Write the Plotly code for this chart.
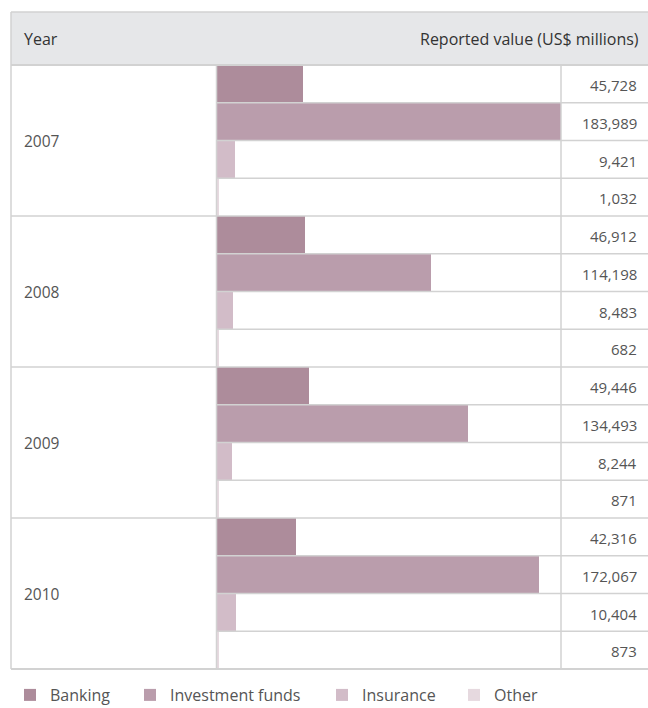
import plotly.graph_objects as go

# Reported value by sector and year (US$ millions)
years = ["2007", "2008", "2009", "2010"]
sectors = ["Banking", "Investment funds", "Insurance", "Other"]
banking = [45728, 46912, 49446, 42316]
investment_funds = [183989, 114198, 134493, 172067]
insurance = [9421, 8483, 8244, 10404]
other = [1032, 682, 871, 873]

header_left = "Year"
header_right = "Reported value (US$ millions)"

W, H = 648, 708
colors = ["#ad8c9b", "#ba9dac", "#d2bcc8", "#e6d9df"]
grid = "#d2d2d2"
text_col = "#555555"
FONT = "Open Sans"


def fx(px):
    return px / W


def fy(py):
    return 1 - py / H


series = [banking, investment_funds, insurance, other]
n_sec = len(sectors)
n_rows = len(years) * n_sec

# table geometry (pixels)
TOP, HEAD_BOT, BOT = 12, 65, 669
LEFT, YEAR_COL, VAL_COL, RIGHT = 11, 216.5, 561, 648

fig = go.Figure()
legend_x = [23, 143, 335, 467]
legend_names = ["legend", "legend2", "legend3", "legend4"]
for j, (name, vals, col) in enumerate(zip(sectors, series, colors)):
    rows = [i * n_sec + j for i in range(len(years))]
    fig.add_trace(go.Bar(
        x=vals, y=rows, orientation="h", name=name,
        marker=dict(color=col, line=dict(width=0)),
        width=1.0, legend=legend_names[j], hoverinfo="x+name",
    ))

max_val = max(max(s) for s in series)

layout_legends = {}
for j, lname in enumerate(legend_names):
    layout_legends[lname] = dict(
        x=fx(legend_x[j] - 13), y=fy(695), xanchor="left", yanchor="middle",
        orientation="h", bgcolor="rgba(0,0,0,0)", borderwidth=0,
        font=dict(family=FONT, size=16, color=text_col),
    )

shapes = []
# header band
shapes.append(dict(type="rect", xref="paper", yref="paper",
                   x0=fx(LEFT), x1=fx(RIGHT + 5), y0=fy(HEAD_BOT), y1=fy(TOP),
                   fillcolor="#e6e7e9", line=dict(width=0), layer="below"))
# horizontal borders: top, header bottom, bottom
for py, w in [(TOP, 1.5), (HEAD_BOT, 2), (BOT, 2)]:
    shapes.append(dict(type="line", xref="paper", yref="paper",
                       x0=fx(LEFT), x1=fx(RIGHT + 5), y0=fy(py), y1=fy(py),
                       line=dict(color=grid, width=w), layer="above"))
# row separators in data coordinates
for k in range(1, n_rows):
    full = (k % n_sec == 0)
    shapes.append(dict(type="line", xref="paper", yref="y",
                       x0=fx(LEFT if full else YEAR_COL), x1=fx(RIGHT + 5),
                       y0=k - 0.5, y1=k - 0.5,
                       line=dict(color=grid, width=1.5), layer="above"))
# vertical lines
for px in [LEFT, YEAR_COL, VAL_COL]:
    shapes.append(dict(type="line", xref="paper", yref="paper",
                       x0=fx(px), x1=fx(px),
                       y0=fy(TOP if px == LEFT else HEAD_BOT), y1=fy(BOT),
                       line=dict(color=grid, width=1.5), layer="above"))

annotations = []
annotations.append(dict(text=header_left, x=fx(22), y=fy(39), xref="paper", yref="paper",
                        xanchor="left", yanchor="middle", showarrow=False,
                        font=dict(family=FONT, size=16, color="#333333")))
annotations.append(dict(text=header_right, x=fx(641), y=fy(39), xref="paper", yref="paper",
                        xanchor="right", yanchor="middle", showarrow=False,
                        font=dict(family=FONT, size=16, color="#333333")))
for i, yr in enumerate(years):
    annotations.append(dict(text=yr, x=fx(22), y=i * n_sec + 1.5, xref="paper", yref="y",
                            xanchor="left", yanchor="middle", showarrow=False,
                            font=dict(family=FONT, size=15.5, color=text_col)))
    for j in range(n_sec):
        annotations.append(dict(text=f"{series[j][i]:,}", x=fx(639), y=i * n_sec + j + 0.03,
                                xref="paper", yref="y", xanchor="right", yanchor="middle",
                                showarrow=False,
                                font=dict(family=FONT, size=15, color=text_col)))

fig.update_layout(
    width=W, height=H, margin=dict(l=0, r=0, t=0, b=0, autoexpand=False),
    paper_bgcolor="white", plot_bgcolor="rgba(0,0,0,0)",
    barmode="overlay", bargap=0,
    xaxis=dict(domain=[fx(217), fx(VAL_COL)], range=[0, max_val], visible=False,
               fixedrange=True),
    yaxis=dict(domain=[fy(BOT), fy(HEAD_BOT)], range=[n_rows - 0.5, -0.5],
               visible=False, fixedrange=True),
    shapes=shapes, annotations=annotations, showlegend=True,
    **layout_legends,
)

fig.write_html("out.html")
